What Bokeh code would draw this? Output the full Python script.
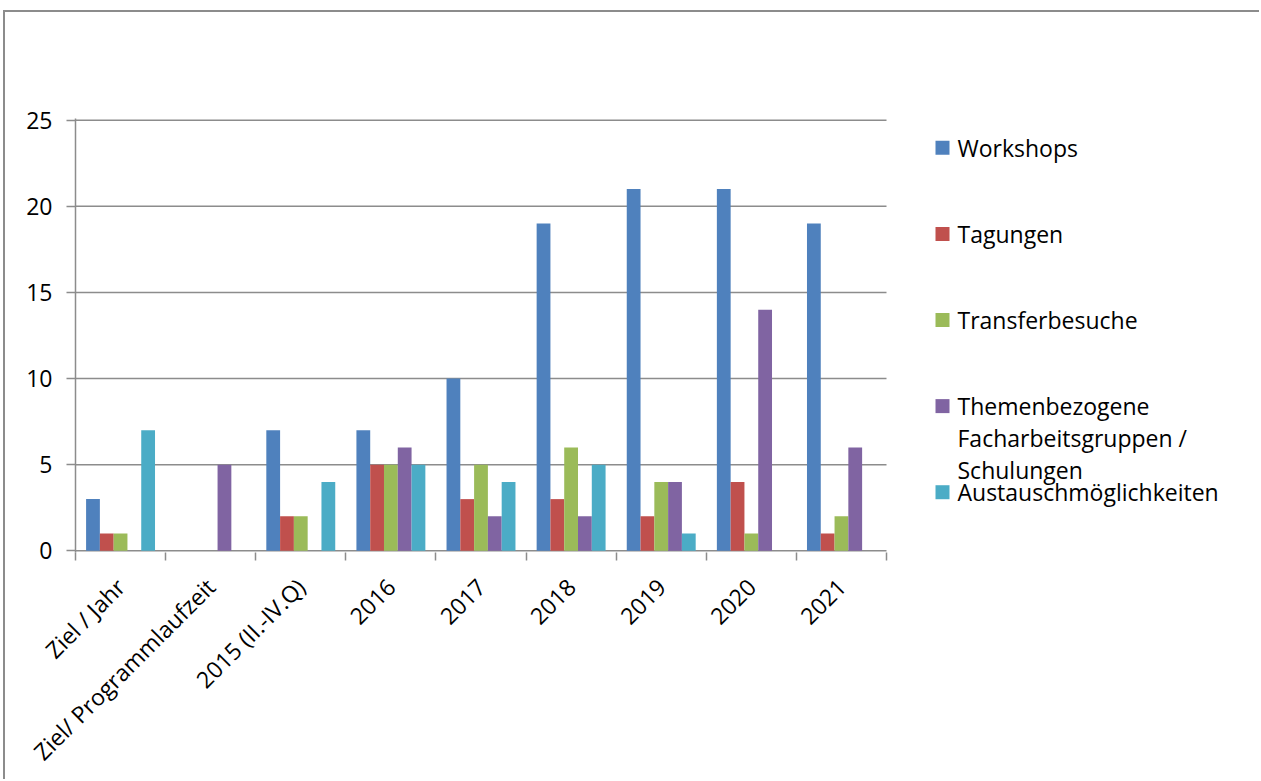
from bokeh.plotting import figure
from bokeh.models import Range1d, FixedTicker
from bokeh.core.properties import value
from bokeh.embed import file_html
from bokeh.resources import INLINE
import math

categories = ["Ziel / Jahr", "Ziel/ Programmlaufzeit", "2015 (II.-IV.Q)", "2016",
              "2017", "2018", "2019", "2020", "2021"]
workshops = [3, 0, 7, 7, 10, 19, 21, 21, 19]
tagungen = [1, 0, 2, 5, 3, 3, 2, 4, 1]
transferbesuche = [1, 0, 2, 5, 5, 6, 4, 1, 2]
themenbezogene = [0, 5, 0, 6, 2, 2, 4, 14, 6]
austausch = [7, 0, 4, 5, 4, 5, 1, 0, 0]
series_names = ["Workshops", "Tagungen", "Transferbesuche",
                "Themenbezogene", "Austauschmöglichkeiten"]
extra_legend_lines = ["Facharbeitsgruppen /", "Schulungen"]
y_ticks = [0, 5, 10, 15, 20, 25]

series = [workshops, tagungen, transferbesuche, themenbezogene, austausch]
colors = ["#4F81BD", "#C0504D", "#9BBB59", "#8064A2", "#4BACC6"]
FONT = "Open Sans"
GRAY = "#8C8C8C"
N = len(categories)

# x: one unit per category; the frame extends to the right to host the legend
px_per_cat = (886 - 75) / N
x_end = N + (1261 - 886) / px_per_cat

p = figure(width=1256, height=769, output_backend="svg", toolbar_location=None,
           x_range=Range1d(0, x_end), y_range=Range1d(-0.1, 25.1),
           min_border_left=70, min_border_right=0, min_border_top=106,
           min_border_bottom=229,
           styles={"margin-left": "3px", "margin-top": "10px",
                   "border-left": "2px solid #8C8C8C", "border-top": "2px solid #8C8C8C"})
p.outline_line_color = None
p.xgrid.grid_line_color = None
p.ygrid.grid_line_color = None

# horizontal grid lines + category axis line, only over the chart area
p.segment(x0=[0] * len(y_ticks), x1=[N] * len(y_ticks), y0=y_ticks, y1=y_ticks,
          line_color=GRAY, line_width=1.5)

bw = 0.153
centers = [i + 0.5 for i in range(N)]
for k, (vals, col) in enumerate(zip(series, colors)):
    off = (k - 2) * bw
    p.vbar(x=[c + off for c in centers], top=vals, width=bw, bottom=0,
           fill_color=col, line_color=None)

# axes
p.yaxis.ticker = FixedTicker(ticks=y_ticks)
p.yaxis.axis_line_color = GRAY
p.yaxis.axis_line_width = 1.5
p.yaxis.major_tick_line_color = GRAY
p.yaxis.major_tick_line_width = 1.5
p.yaxis.major_tick_out = 9
p.yaxis.major_tick_in = 0
p.yaxis.minor_tick_line_color = None
p.yaxis.major_label_text_font = FONT
p.yaxis.major_label_text_font_size = "23px"
p.yaxis.major_label_text_color = "#000000"
p.yaxis.major_label_standoff = 14

p.xaxis.ticker = FixedTicker(ticks=centers, minor_ticks=list(range(N + 1)))
p.xaxis.major_label_overrides = {c: lab for c, lab in zip(centers, categories)}
p.xaxis.axis_line_color = None
p.xaxis.major_tick_line_color = None
p.xaxis.minor_tick_line_color = GRAY
p.xaxis.minor_tick_line_width = 1.5
p.xaxis.minor_tick_out = 8
p.xaxis.minor_tick_in = 0
p.xaxis.major_label_orientation = math.pi / 4
p.xaxis.major_label_text_font = FONT
p.xaxis.major_label_text_font_size = "23px"
p.xaxis.major_label_text_color = "#000000"
p.xaxis.major_label_standoff = 22

# legend (drawn inside the extended frame)
leg_sq_x = N + (942 - 886) / px_per_cat
leg_tx_x = N + (957 - 886) / px_per_cat
leg_y = [23.4 - 5 * k for k in range(len(series_names))]
p.rect(x=[leg_sq_x] * len(colors), y=leg_y, width=14, height=14,
       width_units="screen", height_units="screen", fill_color=colors, line_color=None)
p.text(x=[leg_tx_x] * len(series_names), y=leg_y, text=series_names,
       text_font=value(FONT), text_font_size="23px", text_color="#000000",
       text_baseline="middle", text_align="left")
p.text(x=[leg_tx_x] * 2, y=[leg_y[3] - 1.85, leg_y[3] - 3.7], text=extra_legend_lines,
       text_font=value(FONT), text_font_size="23px", text_color="#000000",
       text_baseline="middle", text_align="left")

open("out.html", "w").write(file_html(p, INLINE))
